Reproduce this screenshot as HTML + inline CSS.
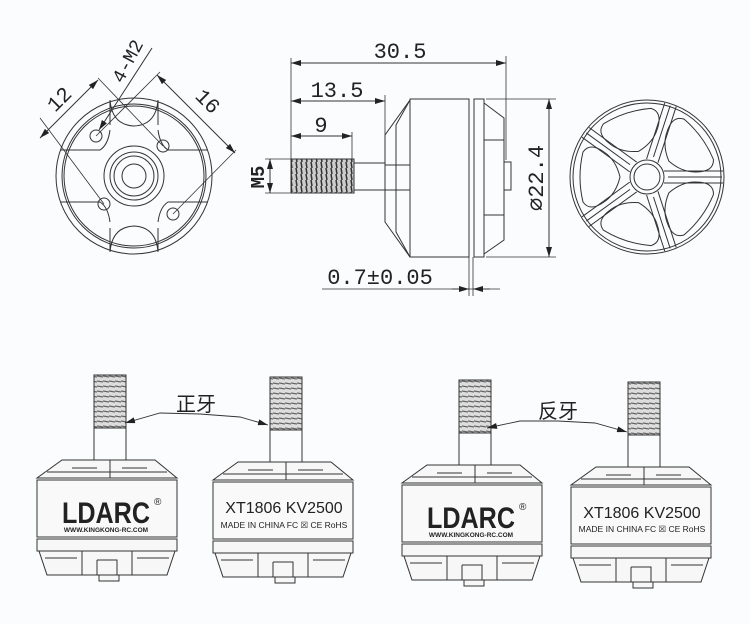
<!DOCTYPE html>
<html><head><meta charset="utf-8"><style>
html,body{margin:0;padding:0;background:#fbfcfd;}
svg{display:block}
text{font-family:"Liberation Mono","DejaVu Sans Mono",monospace;fill:#222}
</style></head><body>
<svg width="750" height="624" viewBox="0 0 750 624" xmlns="http://www.w3.org/2000/svg">
<defs>
<marker id="ar" viewBox="0 0 10 6" refX="10" refY="3" markerWidth="10" markerHeight="6" orient="auto-start-reverse" markerUnits="userSpaceOnUse"><path d="M0,0 L10,3 L0,6 z" fill="#222"/></marker>
<pattern id="thr" width="6" height="5" patternUnits="userSpaceOnUse"><rect width="6" height="5" fill="#ddd"/><line x1="0" y1="1" x2="6" y2="2" stroke="#666" stroke-width="1.2"/></pattern>
<pattern id="thv" width="5" height="6" patternUnits="userSpaceOnUse"><rect width="5" height="6" fill="#ccc"/><line x1="1" y1="0" x2="2" y2="6" stroke="#333" stroke-width="1.5"/></pattern>
<g id="motor" fill="none" stroke="#333" stroke-width="1">
 <rect x="57" y="-105" width="32" height="53" fill="url(#thr)"/>
 <rect x="57" y="-52" width="32" height="32" fill="#fbfcfd"/>
 <path d="M25,-20 L118,-20 L140,-2 L0,-2 Z" fill="#f7f7f7"/>
 <path d="M10,-8 L130,-8 M73,-20 L73,-2 M35,-12 L60,-12 M85,-12 L110,-12"/>
 <rect x="0" y="0" width="140" height="57" fill="#f9f9f9"/>
 <rect x="0" y="59" width="140" height="12" fill="#f7f7f7"/>
 <path d="M2,71 L138,71 L130,95 L10,95 Z" fill="#f7f7f7"/>
 <path d="M8,78 L40,78 M100,78 L132,78 M45,71 L45,95 M95,71 L95,95 M60,80 L80,80 L80,95 M60,80 L60,95"/>
 <rect x="62" y="95" width="20" height="6" fill="#f7f7f7"/>
</g>
<g id="sp" fill="none" stroke="#333" stroke-width="1">
 <path d="M664,171 L723,171 M664,183 L723,183 M668,177 L722,177"/>
 <path d="M674,177 Q678,160 690,152 Q704,142 711,152 Q717,177 711,202 Q704,212 690,202 Q678,194 674,177 Z" transform="rotate(36 647 177)"/>
</g>
</defs>

<g fill="none" stroke="#333" stroke-width="1">
<circle cx="134" cy="176" r="78"/>
<circle cx="134" cy="176" r="72"/>
<circle cx="134" cy="176" r="70"/>
<path d="M60,150 L100,150 Q108,145 110,130 M158,130 Q160,145 168,150 L208,150 M60,202 L100,202 Q108,207 110,222 M158,222 Q160,207 168,202 L208,202" />
<path d="M110,100 Q112,125 134,126 Q156,125 158,100 M110,252 Q112,227 134,226 Q156,227 158,252"/>
<path d="M110,100 L110,125 M158,100 L158,125 M110,228 L110,252 M158,228 L158,252"/>
<circle cx="134" cy="176" r="30"/>
<circle cx="134" cy="176" r="24"/>
<circle cx="134" cy="176" r="20"/>
<circle cx="134" cy="176" r="12"/>
<circle cx="96" cy="136" r="6"/>
<circle cx="163" cy="146" r="6"/>
<circle cx="104" cy="204" r="6"/>
<circle cx="173" cy="214" r="6"/>
<line x1="40" y1="138" x2="98" y2="80" marker-start="url(#ar)" marker-end="url(#ar)"/>
<line x1="40" y1="118" x2="104" y2="204" stroke-width="0.8"/>
<line x1="98" y1="78" x2="163" y2="146" stroke-width="0.8"/>
<line x1="157" y1="75" x2="235" y2="153" marker-start="url(#ar)" marker-end="url(#ar)"/>
<line x1="96" y1="136" x2="160" y2="72" stroke-width="0.8"/>
<line x1="173" y1="214" x2="236" y2="150" stroke-width="0.8"/>
<line x1="152" y1="48" x2="99" y2="130" marker-end="url(#ar)"/>

<rect x="291" y="159" width="63" height="34" fill="url(#thv)"/>
<rect x="354" y="163" width="31" height="27"/>
<path d="M410,100 L385,135 L385,222 L410,257"/>
<path d="M410,100 L396,125 L396,232 L410,257 M385,165 L410,165 M385,190 L410,190"/>
<rect x="410" y="99" width="59" height="158"/>
<rect x="474" y="99" width="10" height="158"/>
<path d="M484,103 L504,118 L504,240 L484,254 M484,140 L504,140 M484,215 L504,215"/>
<rect x="504" y="162" width="7" height="28"/>
<line x1="291" y1="58" x2="291" y2="160" stroke-width="0.8"/>
<line x1="506" y1="56" x2="506" y2="160" stroke-width="0.8"/>
<line x1="291" y1="63" x2="506" y2="63" marker-start="url(#ar)" marker-end="url(#ar)"/>
<line x1="291" y1="101" x2="385" y2="101" marker-start="url(#ar)" marker-end="url(#ar)"/>
<line x1="385" y1="95" x2="385" y2="135" stroke-width="0.8"/>
<line x1="291" y1="136" x2="352" y2="136" marker-start="url(#ar)" marker-end="url(#ar)"/>
<line x1="352" y1="132" x2="352" y2="159" stroke-width="0.8"/>
<line x1="265" y1="159" x2="291" y2="159" stroke-width="0.8"/>
<line x1="265" y1="193" x2="291" y2="193" stroke-width="0.8"/>
<line x1="270" y1="159" x2="270" y2="193" marker-start="url(#ar)" marker-end="url(#ar)"/>
<line x1="486" y1="99" x2="556" y2="99" stroke-width="0.8"/>
<line x1="486" y1="257" x2="556" y2="257" stroke-width="0.8"/>
<line x1="549" y1="99" x2="549" y2="257" marker-start="url(#ar)" marker-end="url(#ar)"/>
<line x1="469" y1="257" x2="469" y2="296" stroke-width="0.8"/>
<line x1="473" y1="257" x2="473" y2="296" stroke-width="0.8"/>
<line x1="322" y1="289" x2="500" y2="289" stroke-width="0.8"/>
<line x1="452" y1="289" x2="469" y2="289" marker-end="url(#ar)"/>
<line x1="490" y1="289" x2="473" y2="289" marker-end="url(#ar)"/>

<circle cx="647" cy="177" r="77"/>
<circle cx="647" cy="177" r="74"/>
<circle cx="647" cy="177" r="17"/>
<circle cx="647" cy="177" r="13"/>
</g>
<use href="#sp"/>
<use href="#sp" transform="rotate(72 647 177)"/>
<use href="#sp" transform="rotate(144 647 177)"/>
<use href="#sp" transform="rotate(216 647 177)"/>
<use href="#sp" transform="rotate(288 647 177)"/>

<text x="400" y="58" font-size="22" text-anchor="middle">30.5</text>
<text x="337" y="97" font-size="22" text-anchor="middle">13.5</text>
<text x="321" y="132" font-size="22" text-anchor="middle">9</text>
<text x="380" y="284" font-size="22" text-anchor="middle">0.7±0.05</text>
<text transform="translate(264,177) rotate(-90)" font-size="19" font-weight="bold" text-anchor="middle">M5</text>
<text transform="translate(543,178) rotate(-90)" font-size="22" text-anchor="middle">⌀22.4</text>
<text transform="translate(64,104) rotate(-45)" font-size="21" text-anchor="middle">12</text>
<text transform="translate(133,64) rotate(-62)" font-size="19" text-anchor="middle">4-M2</text>
<text transform="translate(203,106) rotate(45)" font-size="21" text-anchor="middle">16</text>

<use href="#motor" transform="translate(37,480)"/>
<use href="#motor" transform="translate(213,482)"/>
<use href="#motor" transform="translate(402,485)"/>
<use href="#motor" transform="translate(571,487)"/>

<g style="font-family:'Liberation Sans',sans-serif">
<text x="106" y="523" font-size="30" font-weight="bold" text-anchor="middle" textLength="88" lengthAdjust="spacingAndGlyphs" style="font-family:'Liberation Sans',sans-serif">LDARC</text>
<text x="154" y="505" font-size="10" style="font-family:'Liberation Sans',sans-serif">®</text>
<text x="106" y="532" font-size="6.5" font-weight="bold" text-anchor="middle" style="font-family:'Liberation Sans',sans-serif">WWW.KINGKONG-RC.COM</text>
<text x="471" y="528" font-size="30" font-weight="bold" text-anchor="middle" textLength="88" lengthAdjust="spacingAndGlyphs" style="font-family:'Liberation Sans',sans-serif">LDARC</text>
<text x="519" y="510" font-size="10" style="font-family:'Liberation Sans',sans-serif">®</text>
<text x="471" y="537" font-size="6.5" font-weight="bold" text-anchor="middle" style="font-family:'Liberation Sans',sans-serif">WWW.KINGKONG-RC.COM</text>
<text x="284" y="513" font-size="16" text-anchor="middle" style="font-family:'Liberation Sans',sans-serif">XT1806  KV2500</text>
<text x="284" y="528" font-size="8.5" text-anchor="middle" style="font-family:'Liberation Sans',sans-serif">MADE IN CHINA FC ☒ CE RoHS</text>
<text x="642" y="518" font-size="16" text-anchor="middle" style="font-family:'Liberation Sans',sans-serif">XT1806  KV2500</text>
<text x="642" y="532" font-size="8.5" text-anchor="middle" style="font-family:'Liberation Sans',sans-serif">MADE IN CHINA FC ☒ CE RoHS</text>
<text x="196" y="411" font-size="20" text-anchor="middle" style="font-family:'Liberation Sans','Noto Sans CJK SC',sans-serif">正牙</text>
<text x="558" y="418" font-size="20" text-anchor="middle" style="font-family:'Liberation Sans','Noto Sans CJK SC',sans-serif">反牙</text>
</g>
<g stroke="#333" stroke-width="0.9" fill="none">
<polyline points="200,414 160,413 125,423" marker-end="url(#ar)"/>
<polyline points="200,414 240,417 268,425" marker-end="url(#ar)"/>
<polyline points="558,421 520,421 487,428" marker-end="url(#ar)"/>
<polyline points="558,421 595,423 627,432" marker-end="url(#ar)"/>
</g>
</svg>
</body></html>
